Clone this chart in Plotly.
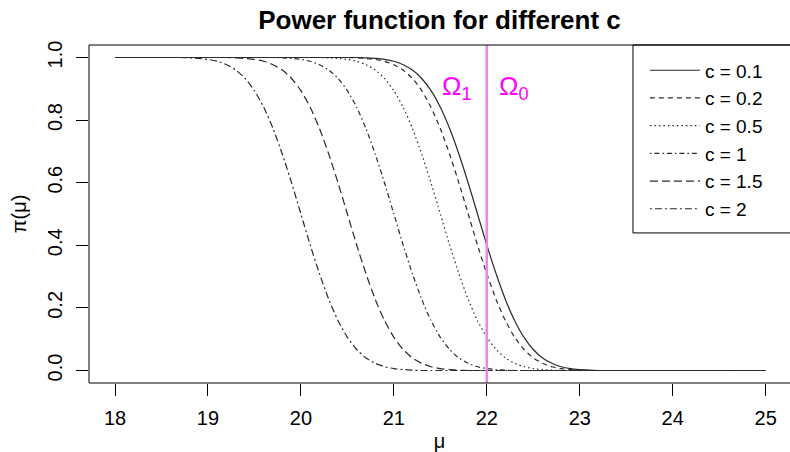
import plotly.graph_objects as go

# mu grid (the flat tails need only the end points)
mu = [18.0,
      18.6, 18.7, 18.8, 18.9, 19.0, 19.1, 19.2, 19.3, 19.4, 19.5,
      19.6, 19.7, 19.8, 19.9, 20.0, 20.1, 20.2, 20.3, 20.4, 20.5,
      20.6, 20.7, 20.8, 20.9, 21.0, 21.1, 21.2, 21.3, 21.4, 21.5,
      21.6, 21.7, 21.8, 21.9, 22.0, 22.1, 22.2, 22.3, 22.4, 22.5,
      22.6, 22.7, 22.8, 22.9, 23.0, 23.1, 23.2,
      25.0]

# power values
power_c01 = [1.0,
             1.0, 1.0, 1.0, 1.0, 1.0, 1.0, 1.0, 1.0, 1.0, 1.0,
             1.0, 1.0, 1.0, 1.0, 1.0, 1.0, 1.0, 1.0, 1.0, 1.0,
             1.0, 0.999, 0.997, 0.994, 0.988, 0.977, 0.960, 0.933, 0.894, 0.841,
             0.773, 0.691, 0.599, 0.500, 0.401, 0.309, 0.227, 0.159, 0.106, 0.067,
             0.040, 0.023, 0.012, 0.006, 0.003, 0.001, 0.0,
             0.0]
power_c02 = [1.0,
             1.0, 1.0, 1.0, 1.0, 1.0, 1.0, 1.0, 1.0, 1.0, 1.0,
             1.0, 1.0, 1.0, 1.0, 1.0, 1.0, 1.0, 1.0, 1.0, 1.0,
             0.999, 0.997, 0.994, 0.988, 0.977, 0.960, 0.933, 0.894, 0.841, 0.773,
             0.691, 0.599, 0.500, 0.401, 0.309, 0.227, 0.159, 0.106, 0.067, 0.040,
             0.023, 0.012, 0.006, 0.003, 0.001, 0.0, 0.0,
             0.0]
power_c05 = [1.0,
             1.0, 1.0, 1.0, 1.0, 1.0, 1.0, 1.0, 1.0, 1.0, 1.0,
             1.0, 1.0, 1.0, 1.0, 1.0, 1.0, 1.0, 0.999, 0.997, 0.994,
             0.988, 0.977, 0.960, 0.933, 0.894, 0.841, 0.773, 0.691, 0.599, 0.500,
             0.401, 0.309, 0.227, 0.159, 0.106, 0.067, 0.040, 0.023, 0.012, 0.006,
             0.003, 0.001, 0.0, 0.0, 0.0, 0.0, 0.0,
             0.0]
power_c1 = [1.0,
            1.0, 1.0, 1.0, 1.0, 1.0, 1.0, 1.0, 1.0, 1.0, 1.0,
            1.0, 1.0, 0.999, 0.997, 0.994, 0.988, 0.977, 0.960, 0.933, 0.894,
            0.841, 0.773, 0.691, 0.599, 0.500, 0.401, 0.309, 0.227, 0.159, 0.106,
            0.067, 0.040, 0.023, 0.012, 0.006, 0.003, 0.001, 0.0, 0.0, 0.0,
            0.0, 0.0, 0.0, 0.0, 0.0, 0.0, 0.0,
            0.0]
power_c15 = [1.0,
             1.0, 1.0, 1.0, 1.0, 1.0, 1.0, 1.0, 0.999, 0.997, 0.994,
             0.988, 0.977, 0.960, 0.933, 0.894, 0.841, 0.773, 0.691, 0.599, 0.500,
             0.401, 0.309, 0.227, 0.159, 0.106, 0.067, 0.040, 0.023, 0.012, 0.006,
             0.003, 0.001, 0.0, 0.0, 0.0, 0.0, 0.0, 0.0, 0.0, 0.0,
             0.0, 0.0, 0.0, 0.0, 0.0, 0.0, 0.0,
             0.0]
power_c2 = [1.0,
            1.0, 1.0, 0.999, 0.997, 0.994, 0.988, 0.977, 0.960, 0.933, 0.894,
            0.841, 0.773, 0.691, 0.599, 0.500, 0.401, 0.309, 0.227, 0.159, 0.106,
            0.067, 0.040, 0.023, 0.012, 0.006, 0.003, 0.001, 0.0, 0.0, 0.0,
            0.0, 0.0, 0.0, 0.0, 0.0, 0.0, 0.0, 0.0, 0.0, 0.0,
            0.0, 0.0, 0.0, 0.0, 0.0, 0.0, 0.0,
            0.0]

c_labels = ["c = 0.1", "c = 0.2", "c = 0.5", "c = 1", "c = 1.5", "c = 2"]
boundary_mu = 22

x_ticks = [18, 19, 20, 21, 22, 23, 24, 25]
y_ticks = [0.0, 0.2, 0.4, 0.6, 0.8, 1.0]
y_tick_text = ["0.0", "0.2", "0.4", "0.6", "0.8", "1.0"]

curves = [power_c01, power_c02, power_c05, power_c1, power_c15, power_c2]
# R line types: solid, dashed, dotted, dotdash, longdash, twodash
dashes = ["solid", "5px,4px", "1.5px,3px", "1.5px,3px,5px,3px",
          "8px,4px", "2px,3px,7px,3px"]

FONT = "Liberation Sans, Arial, Helvetica, sans-serif"

fig = go.Figure()
for y, name, dash in zip(curves, c_labels, dashes):
    fig.add_trace(go.Scatter(
        x=mu, y=y, mode="lines", name=name,
        line=dict(color="#2a2a2a", width=1.2, dash=dash,
                  shape="spline", smoothing=0.6),
    ))

# boundary between the hypotheses
fig.add_shape(type="line", xref="x", yref="paper",
              x0=boundary_mu, x1=boundary_mu, y0=0, y1=1,
              line=dict(color="violet", width=2.5))
fig.add_annotation(x=21.68, y=0.905, xref="x", yref="y", text="Ω<sub>1</sub>",
                   showarrow=False, font=dict(size=26, color="magenta", family=FONT))
fig.add_annotation(x=22.29, y=0.905, xref="x", yref="y", text="Ω<sub>0</sub>",
                   showarrow=False, font=dict(size=26, color="magenta", family=FONT))

# plot frame and legend frame (right edge runs off the picture)
fig.add_shape(type="rect", xref="paper", yref="paper", x0=0, x1=1.02, y0=0, y1=1,
              line=dict(color="black", width=1))
fig.add_shape(type="rect", xref="paper", yref="paper", x0=0.776, x1=1.02, y0=0.444, y1=1,
              line=dict(color="black", width=1))

fig.update_layout(
    width=790, height=452,
    margin=dict(l=89, r=0, t=45, b=69, autoexpand=False),
    paper_bgcolor="white", plot_bgcolor="white",
    font=dict(family=FONT, color="black"),
    title=dict(text="<b>Power function for different c</b>", xref="paper", x=0.5,
               xanchor="center", y=1 - 20 / 452, yanchor="middle",
               font=dict(size=26, color="black")),
    showlegend=True,
    legend=dict(x=0.793, y=0.981, xanchor="left", yanchor="top",
                bgcolor="rgba(0,0,0,0)", borderwidth=0,
                font=dict(size=19), itemwidth=50),
    xaxis=dict(range=[17.72, 25.262], tickvals=x_ticks, ticks="outside", ticklen=12,
               tickcolor="black", showgrid=False, zeroline=False, showline=False,
               tickfont=dict(size=20), ticklabelstandoff=5, automargin=False,
               title=dict(text="μ", font=dict(size=20), standoff=14)),
    yaxis=dict(range=[-0.04, 1.04], tickvals=y_ticks, ticktext=y_tick_text,
               tickangle=-90, ticks="outside", ticklen=12, tickcolor="black",
               showgrid=False, zeroline=False, showline=False,
               tickfont=dict(size=20), ticklabelstandoff=6, automargin=False,
               title=dict(text="π(μ)", font=dict(size=20), standoff=12)),
)

# drop the browser's default page margin so the figure sits at the window corner
fig.write_html("out.html", config={"displayModeBar": False},
               post_script="document.body.style.margin='0';")
